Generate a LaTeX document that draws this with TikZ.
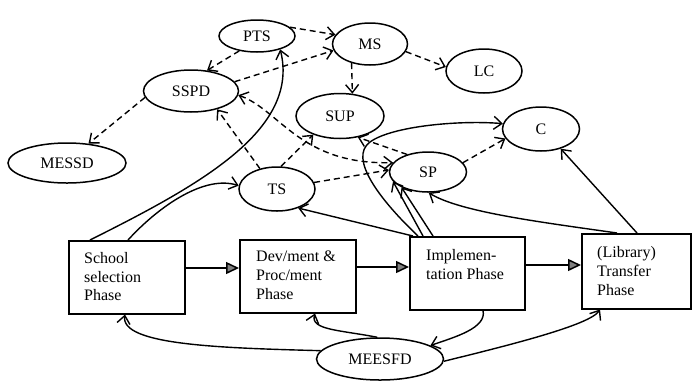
\documentclass[tikz,border=0pt]{standalone}
\usepackage{fontspec}
\setmainfont{Liberation Serif}
\usetikzlibrary{shapes.geometric,arrows.meta,calc}
\begin{document}
\begin{tikzpicture}[x=1pt,y=-1pt,
  ell/.style={ellipse,draw,line width=1.5pt,inner sep=0pt,font=\fontsize{16}{18}\selectfont},
  box/.style={rectangle,draw,line width=1.5pt,inner sep=0pt,anchor=north west},
  boxtext/.style={anchor=north west,inner sep=0pt,align=left,font=\fontsize{16}{18.7}\selectfont},
  conn/.style={line width=1.4pt,-{Straight Barb[length=8pt,width=13pt]}},
  dconn/.style={conn,dash pattern=on 6pt off 4pt},
  dconnboth/.style={dconn,{Straight Barb[length=8pt,width=13pt]}-{Straight Barb[length=8pt,width=13pt]}},
  phase/.style={line width=1.5pt,-{Triangle[length=13pt,width=12pt,fill=gray]}}
]
\useasboundingbox (0,0) rectangle (692,381);

% ellipses
\node[ell,minimum width=76pt,minimum height=32pt] (PTS) at (257,36) {PTS};
\node[ell,minimum width=75pt,minimum height=42pt] (MS) at (370,44) {MS};
\node[ell,minimum width=76pt,minimum height=44pt] (LC) at (484,71) {LC};
\node[ell,minimum width=95pt,minimum height=42pt] (SSPD) at (191,91) {SSPD};
\node[ell,minimum width=118pt,minimum height=40pt] (MESSD) at (67,163) {MESSD};
\node[ell,minimum width=88pt,minimum height=45pt] (SUP) at (340,116) {SUP};
\node[ell,minimum width=77pt,minimum height=44pt] (C) at (541,129) {C};
\node[ell,minimum width=76pt,minimum height=44pt] (TS) at (277,189) {TS};
\node[ell,minimum width=77pt,minimum height=40pt] (SP) at (428,172) {SP};
\node[ell,minimum width=127pt,minimum height=42pt] (MEESFD) at (380,359) {MEESFD};

% phase boxes
\node[box,minimum width=116pt,minimum height=73pt] (school) at (68,240) {};
\node[box,minimum width=116pt,minimum height=73pt] (dev) at (239,239) {};
\node[box,minimum width=115pt,minimum height=73pt] (impl) at (409,236) {};
\node[box,minimum width=109pt,minimum height=75pt] (lib) at (581,233) {};

\node[boxtext] (schoolT) at (84,252) {School\\selection\\Phase};
\node[boxtext] (devT) at (256,251) {Dev/ment \&\\Proc/ment\\Phase};
\node[boxtext] (implT) at (426,249) {Implemen-\\tation Phase};
\node[boxtext] (libT) at (597,246.5) {(Library)\\Transfer\\Phase};

% phase arrows
\coordinate (sd) at ($(school.north east)+(0,28)$);
\coordinate (di) at ($(dev.north east)+(0,28)$);
\coordinate (il) at ($(impl.north east)+(0,29)$);
\draw[phase] (sd) -- (sd -| dev.west);
\draw[phase] (di) -- (di -| impl.west);
\draw[phase] (il) -- (il -| lib.west);

% dashed connectors
\draw[dconn] (PTS.15) -- (MS.165);
\draw[dconn] (SSPD.12) -- (MS.190);
\draw[dconn] (PTS.220) -- (SSPD.52);
\draw[dconn] (MS.-12) -- (LC.174);
\draw[dconn] (MS.-134) -- (SUP.61);
\draw[dconn] (SSPD.188) -- (MESSD.42);
\draw[dconn] (TS.130) -- (SSPD.-35);
\draw[dconn] (TS.80) -- (SUP.215);
\draw[dconnboth] (SSPD.-5) .. controls (280,110) and (300,165) .. (SP.165);
\draw[dconn] (TS.10) -- (SP.177);
\draw[dconn] (SP.15) -- (C.195);
\draw[dconn] (SP.140) -- (SUP.-50);

% solid connectors
\draw[conn] ($(school.north west)+(22,0)$) .. controls (200,185) and (300,130) .. (PTS.-30);
\draw[conn] ($(school.north west)+(60,0)$) .. controls (160,205) and (205,175) .. (TS.175);
\draw[conn] ($(impl.north west)+(4,0)$) -- (TS.-42);
\draw[conn] ($(lib.north west)+(36,0)$) .. controls (540,222) and (460,212) .. (SP.-88);
\draw[conn] ($(lib.north west)+(56,0)$) -- (C.-45);
\draw[conn] ($(impl.north west)+(9,0)$) .. controls (380,200) and (348,158) .. (370,142) .. controls (392,126) and (460,120) .. (C.172);
\draw[conn] ($(impl.north west)+(14,0)$) -- (SP.-165);
\draw[conn] ($(impl.north west)+(24,0)$) -- (SP.-150);

\draw[conn] (MEESFD.172) .. controls (220,348) and (120,345) .. ($(school.south west)+(57,0)$);
\draw[conn] (MEESFD.97) .. controls (340,330) and (310,330) .. ($(dev.south west)+(76,0)$);
\draw[conn] ($(impl.south west)+(74,0)$) .. controls (487,328) and (455,337) .. (MEESFD.15);
\draw[conn] (MEESFD.-2) .. controls (510,345) and (590,325) .. ($(lib.south west)+(19,0)$);
\end{tikzpicture}
\end{document}
